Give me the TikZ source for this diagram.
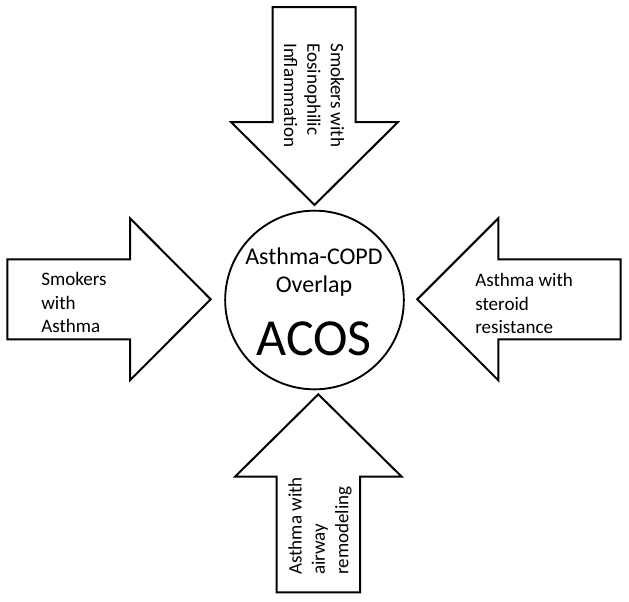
\documentclass[tikz,border=0pt]{standalone}
\usepackage{fontspec}
\setmainfont{Carlito}

\begin{document}
\begin{tikzpicture}[x=0.75pt,y=-0.75pt]
\tikzset{blockarrow/.style={draw,line width=1.5pt,line join=miter,fill=white},
  arrowtext/.style={align=left,inner sep=0pt,font=\fontsize{14.3}{17.5}\selectfont},
  centretext/.style={anchor=base,inner sep=0pt,font=\fontsize{18}{21}\selectfont}}
\useasboundingbox (0,0) rectangle (629,601);

% the four block arrows
\draw[blockarrow] (272.7,7) -- (355.7,7) -- (355.7,122) -- (398,122) -- (314.5,205)
   -- (231,122) -- (272.7,122) -- cycle;
\draw[blockarrow] (7.3,259.3) -- (130,259.3) -- (130,218.3) -- (210.7,299.3)
   -- (130,380.3) -- (130,339.3) -- (7.3,339.3) -- cycle;
\draw[blockarrow] (620.7,259.3) -- (498.3,259.3) -- (498.3,218.3) -- (417.3,299.3)
   -- (498.3,380.3) -- (498.3,339.3) -- (620.7,339.3) -- cycle;
\draw[blockarrow] (276.7,592.3) -- (360,592.3) -- (360,476.7) -- (401.7,476.7) -- (318.3,394.3)
   -- (235,476.7) -- (276.7,476.7) -- cycle;

% centre
\node[circle,draw,line width=1.4pt,minimum size=134pt,inner sep=0pt] (acos) at (314.5,300) {};
\node[centretext] (copd) at (314,264) {Asthma-COPD};
\node[centretext] (overlap) at (314,292.7) {Overlap};
\node[centretext,font=\fontsize{39}{45}\selectfont] (acosname) at (314,355) {ACOS};

% labels in the arrows
\node[arrowtext,rotate=-90,anchor=west] (toplabel) at (314,43) {Smokers with\\Eosinophilic\\Inflammation};
\node[arrowtext,anchor=west] (leftlabel) at (41,302.5) {Smokers\\with\\Asthma};
\node[arrowtext,anchor=west] (rightlabel) at (475,303.5) {Asthma with\\steroid\\resistance};
\node[arrowtext,rotate=90,anchor=west] (bottomlabel) at (320,575) {Asthma with\\airway\\remodeling};

\end{tikzpicture}
\end{document}
